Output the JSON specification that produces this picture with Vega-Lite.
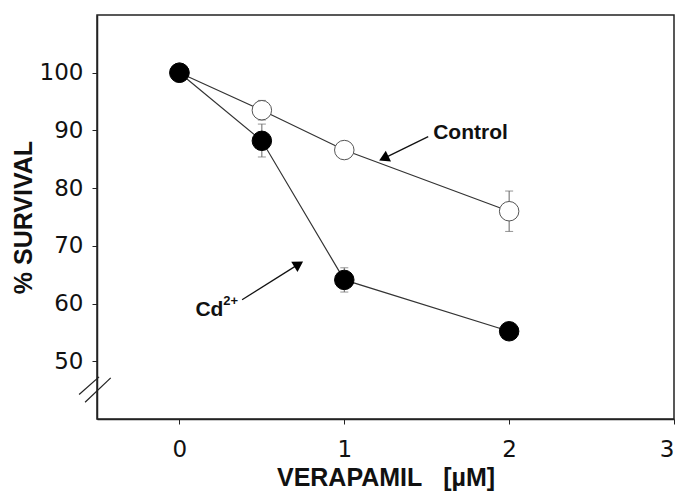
{
  "$schema": "https://vega.github.io/schema/vega-lite/v6.json",
  "width": 577,
  "height": 404,
  "autosize": {"type": "none"},
  "padding": {"left": 97, "top": 15, "right": 7, "bottom": 76},
  "background": "white",
  "config": {
    "view": {"stroke": "#222", "strokeWidth": 1.5},
    "font": "Liberation Sans",
    "axis": {"domainColor": "#222", "domainWidth": 1.5, "tickColor": "#222", "labelColor": "#111", "titleColor": "#111", "grid": false, "labelFont": "DejaVu Sans", "labelFontSize": 23}
  },
  "datasets": {
    "points": [
      {"series": "Control", "dose": 0, "survival": 100},
      {"series": "Control", "dose": 0.5, "survival": 93.5},
      {"series": "Control", "dose": 1, "survival": 86.6},
      {"series": "Control", "dose": 2, "survival": 76},
      {"series": "Cd", "dose": 0, "survival": 100},
      {"series": "Cd", "dose": 0.5, "survival": 88.2},
      {"series": "Cd", "dose": 1, "survival": 64.1},
      {"series": "Cd", "dose": 2, "survival": 55.2}
    ],
    "errors": [
      {"series": "Control", "dose": 0.5, "lo": 91.8, "hi": 95.2},
      {"series": "Control", "dose": 2, "lo": 72.5, "hi": 79.5},
      {"series": "Cd", "dose": 0.5, "lo": 85.4, "hi": 91.1},
      {"series": "Cd", "dose": 1, "lo": 62.0, "hi": 66.2}
    ],
    "arrows": [
      {"label": "Control", "x": 1.509, "y": 88.93, "hx": 1.2396, "hy": 85.16},
      {"label": "Cd", "x": 0.38, "y": 60.67, "hx": 0.7235, "hy": 66.83}
    ],
    "labels": [
      {"text": "Control", "x": 1.539, "y": 89.5, "kind": "main"},
      {"text": "Cd", "x": 0.097, "y": 58.94, "kind": "main"},
      {"text": "2+", "x": 0.266, "y": 60.5, "kind": "sup"}
    ],
    "breaks": [
      {"x": -0.6086, "y": 44.24, "x2": -0.4876, "y2": 47.3},
      {"x": -0.5723, "y": 42.91, "x2": -0.4168, "y2": 47.13}
    ]
  },
  "encoding": {
    "x": {"type": "quantitative"},
    "y": {"type": "quantitative"}
  },
  "layer": [
    {
      "data": {"name": "errors"},
      "mark": {"type": "rule", "color": "#666", "strokeWidth": 1},
      "encoding": {
        "x": {"field": "dose", "type": "quantitative", "scale": {"domain": [-0.5, 3], "nice": false, "zero": false},
          "axis": {"values": [0, 1, 2, 3], "format": "d", "tickSize": 5, "labelPadding": 14,
            "title": "VERAPAMIL\u00a0\u00a0\u00a0[µM]", "titleFontSize": 25, "titleFontWeight": "bold", "titlePadding": 4}},
        "y": {"field": "lo", "type": "quantitative", "scale": {"domain": [40, 110], "nice": false, "zero": false},
          "axis": {"values": [50, 60, 70, 80, 90, 100], "tickSize": 5, "labelPadding": 9,
            "title": "% SURVIVAL", "titleFontSize": 25, "titleFontWeight": "bold", "titleX": -74, "titleY": 202,
            "titleAngle": -90, "titleAlign": "center", "titleBaseline": "middle"}},
        "y2": {"field": "hi"}
      }
    },
    {
      "data": {"name": "errors"},
      "mark": {"type": "tick", "orient": "horizontal", "color": "#666", "size": 8, "thickness": 1},
      "encoding": {"x": {"field": "dose", "type": "quantitative"}, "y": {"field": "lo", "type": "quantitative"}}
    },
    {
      "data": {"name": "errors"},
      "mark": {"type": "tick", "orient": "horizontal", "color": "#666", "size": 8, "thickness": 1},
      "encoding": {"x": {"field": "dose", "type": "quantitative"}, "y": {"field": "hi", "type": "quantitative"}}
    },
    {
      "data": {"name": "points"},
      "mark": {"type": "line", "color": "#333", "strokeWidth": 1.2},
      "encoding": {
        "x": {"field": "dose", "type": "quantitative"},
        "y": {"field": "survival", "type": "quantitative"},
        "detail": {"field": "series"}
      }
    },
    {
      "data": {"name": "points"},
      "mark": {"type": "point", "shape": "circle", "size": 380, "strokeWidth": 1, "opacity": 1, "filled": false},
      "encoding": {
        "x": {"field": "dose", "type": "quantitative"},
        "y": {"field": "survival", "type": "quantitative"},
        "fill": {"field": "series", "type": "nominal", "scale": {"domain": ["Control", "Cd"], "range": ["white", "black"]}, "legend": null},
        "stroke": {"field": "series", "type": "nominal", "scale": {"domain": ["Control", "Cd"], "range": ["#555", "black"]}, "legend": null},
        "order": {"field": "series", "sort": "descending"}
      }
    },
    {
      "data": {"name": "arrows"},
      "mark": {"type": "rule", "color": "#111", "strokeWidth": 1.3},
      "encoding": {
        "x": {"field": "x", "type": "quantitative"},
        "y": {"field": "y", "type": "quantitative"},
        "x2": {"field": "hx"},
        "y2": {"field": "hy"}
      }
    },
    {
      "data": {"name": "arrows"},
      "transform": [{"filter": "datum.label === 'Control'"}],
      "mark": {"type": "point", "shape": "triangle-up", "filled": true, "color": "black", "size": 140, "angle": 244, "opacity": 1},
      "encoding": {"x": {"field": "hx", "type": "quantitative"}, "y": {"field": "hy", "type": "quantitative"}}
    },
    {
      "data": {"name": "arrows"},
      "transform": [{"filter": "datum.label === 'Cd'"}],
      "mark": {"type": "point", "shape": "triangle-up", "filled": true, "color": "black", "size": 140, "angle": 58, "opacity": 1},
      "encoding": {"x": {"field": "hx", "type": "quantitative"}, "y": {"field": "hy", "type": "quantitative"}}
    },
    {
      "data": {"name": "labels"},
      "transform": [{"filter": "datum.kind === 'main'"}],
      "mark": {"type": "text", "align": "left", "baseline": "middle", "fontSize": 21, "fontWeight": "bold", "color": "#111"},
      "encoding": {"x": {"field": "x", "type": "quantitative"}, "y": {"field": "y", "type": "quantitative"}, "text": {"field": "text"}}
    },
    {
      "data": {"name": "labels"},
      "transform": [{"filter": "datum.kind === 'sup'"}],
      "mark": {"type": "text", "align": "left", "baseline": "middle", "fontSize": 13, "fontWeight": "bold", "color": "#111"},
      "encoding": {"x": {"field": "x", "type": "quantitative"}, "y": {"field": "y", "type": "quantitative"}, "text": {"field": "text"}}
    },
    {
      "data": {"name": "breaks"},
      "mark": {"type": "rule", "color": "#222", "strokeWidth": 1.2},
      "encoding": {
        "x": {"field": "x", "type": "quantitative"},
        "y": {"field": "y", "type": "quantitative"},
        "x2": {"field": "x2"},
        "y2": {"field": "y2"}
      }
    }
  ]
}
